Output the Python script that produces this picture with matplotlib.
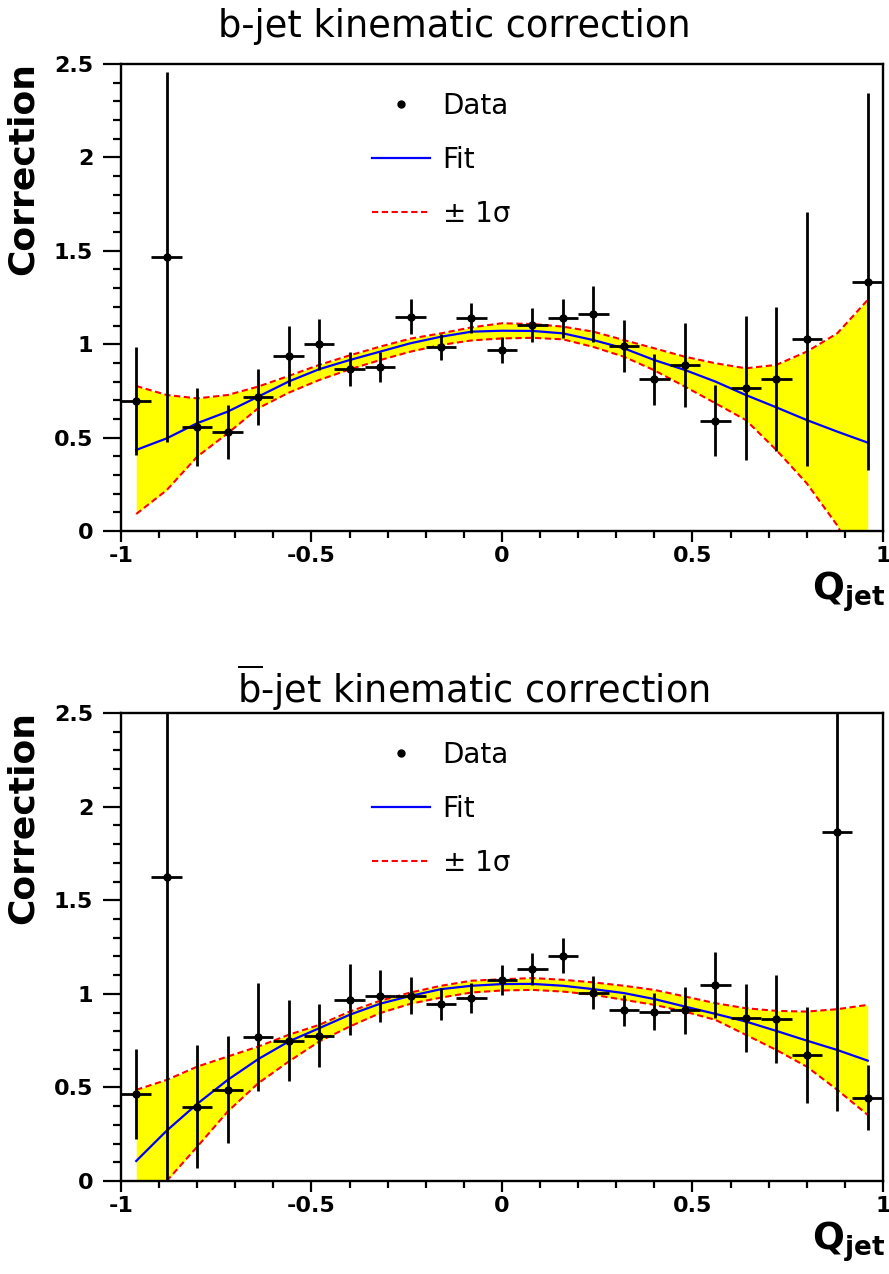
import numpy as np
import matplotlib.pyplot as plt
from matplotlib.lines import Line2D
from matplotlib.ticker import MultipleLocator

plt.rcParams['font.family'] = ['DejaVu Sans']
plt.rcParams['mathtext.fontset'] = 'dejavusans'

# bin centres of Q_jet
q_bins = [-0.96, -0.88, -0.80, -0.72, -0.64, -0.56, -0.48, -0.40, -0.32, -0.24, -0.16, -0.08, 0.00,
          0.08, 0.16, 0.24, 0.32, 0.40, 0.48, 0.56, 0.64, 0.72, 0.80, 0.88, 0.96]

# b-jet (top); the 0.88 bin has no point
b_x = [-0.96, -0.88, -0.80, -0.72, -0.64, -0.56, -0.48, -0.40, -0.32, -0.24, -0.16, -0.08, 0.00,
       0.08, 0.16, 0.24, 0.32, 0.40, 0.48, 0.56, 0.64, 0.72, 0.80, 0.96]
b_y = [0.696, 1.468, 0.558, 0.532, 0.719, 0.937, 0.999, 0.867, 0.880, 1.147, 0.983, 1.138, 0.969,
       1.103, 1.138, 1.162, 0.992, 0.812, 0.889, 0.591, 0.764, 0.812, 1.026, 1.335]
b_err = [0.29, 0.99, 0.21, 0.145, 0.15, 0.16, 0.135, 0.09, 0.08, 0.093, 0.07, 0.08, 0.07,
         0.09, 0.105, 0.15, 0.14, 0.135, 0.227, 0.19, 0.385, 0.385, 0.68, 1.01]
b_fit = [0.434, 0.496, 0.577, 0.639, 0.719, 0.800, 0.866, 0.915, 0.960, 1.005, 1.040, 1.067, 1.072,
         1.071, 1.058, 1.022, 0.978, 0.915, 0.862, 0.800, 0.728, 0.662, 0.594, 0.532, 0.473]
b_up = [0.776, 0.728, 0.710, 0.728, 0.773, 0.830, 0.889, 0.940, 0.987, 1.030, 1.058, 1.090, 1.112,
        1.108, 1.094, 1.067, 1.022, 0.978, 0.933, 0.898, 0.871, 0.889, 0.960, 1.058, 1.237]
b_lo = [0.091, 0.219, 0.398, 0.523, 0.657, 0.740, 0.808, 0.865, 0.915, 0.960, 0.996, 1.020, 1.031,
        1.034, 1.026, 0.985, 0.933, 0.860, 0.773, 0.684, 0.594, 0.434, 0.255, 0.030, -0.290]

# b-bar-jet (bottom)
bb_y = [0.464, 1.622, 0.397, 0.487, 0.769, 0.749, 0.777, 0.968, 0.989, 0.991, 0.947, 0.980, 1.075,
        1.132, 1.203, 1.007, 0.911, 0.905, 0.911, 1.048, 0.870, 0.866, 0.674, 1.865, 0.445]
bb_err = [0.24, 1.65, 0.33, 0.285, 0.29, 0.217, 0.17, 0.19, 0.137, 0.10, 0.085, 0.08, 0.08,
          0.085, 0.093, 0.088, 0.083, 0.10, 0.125, 0.178, 0.183, 0.235, 0.257, 1.49, 0.175]
bb_fit = [0.107, 0.269, 0.412, 0.540, 0.651, 0.745, 0.816, 0.888, 0.947, 0.989, 1.025, 1.043, 1.052,
          1.053, 1.043, 1.025, 1.004, 0.972, 0.932, 0.893, 0.852, 0.802, 0.750, 0.700, 0.643]
bb_up = [0.487, 0.540, 0.611, 0.665, 0.718, 0.781, 0.834, 0.905, 0.963, 1.007, 1.043, 1.070, 1.078,
         1.084, 1.075, 1.061, 1.043, 1.021, 0.986, 0.950, 0.923, 0.909, 0.905, 0.918, 0.941]
bb_lo = [-0.270, 0.000, 0.183, 0.371, 0.522, 0.638, 0.745, 0.825, 0.897, 0.947, 0.980, 1.007, 1.018,
         1.021, 1.012, 0.995, 0.968, 0.941, 0.905, 0.861, 0.781, 0.700, 0.611, 0.487, 0.353]

bin_half = 0.04

fig = plt.figure(figsize=(8.89, 12.74), dpi=100)
ax1 = fig.add_axes([0.1361, 0.5832, 0.8571, 0.3666])
ax2 = fig.add_axes([0.1361, 0.0730, 0.8571, 0.3673])

fig.text(0.511, 0.9712, 'b-jet kinematic correction', ha='center', va='baseline', fontsize=26.5)
fig.text(0.532, 0.4482, r'$\overline{\mathrm{b}}$-jet kinematic correction', ha='center',
         va='baseline', fontsize=26.5)


def draw(ax, xd, yd, err, fit, up, lo):
    ax.fill_between(q_bins, lo, up, color='#ffff00', lw=0, zorder=1)
    ax.plot(q_bins, up, color='red', ls='--', dashes=(3, 1.7), lw=1.5, zorder=2)
    ax.plot(q_bins, lo, color='red', ls='--', dashes=(3, 1.7), lw=1.5, zorder=2)
    ax.plot(q_bins, fit, color='blue', lw=1.6, zorder=3)
    ax.errorbar(xd, yd, yerr=err, xerr=bin_half, fmt='o', color='black', ms=5,
                elinewidth=2, capsize=0, zorder=4)

    ax.set_xlim(-1, 1)
    ax.set_ylim(0, 2.5)
    ax.xaxis.set_minor_locator(MultipleLocator(0.1))
    ax.yaxis.set_minor_locator(MultipleLocator(0.1))
    ax.set_xticks([-1, -0.5, 0, 0.5, 1])
    ax.set_xticklabels(['-1', '-0.5', '0', '0.5', '1'])
    ax.set_yticks([0, 0.5, 1, 1.5, 2, 2.5])
    ax.set_yticklabels(['0', '0.5', '1', '1.5', '2', '2.5'])
    for lab in ax.get_xticklabels() + ax.get_yticklabels():
        lab.set_fontweight('bold')
        lab.set_fontsize(16)
    ax.tick_params(axis='y', which='major', direction='out', length=13, width=1.6, pad=7)
    ax.tick_params(axis='y', which='minor', direction='out', length=6, width=1.6)
    ax.tick_params(axis='x', which='major', direction='out', length=8, width=1.6, pad=3)
    ax.tick_params(axis='x', which='minor', direction='out', length=5, width=1.6)
    for sp in ax.spines.values():
        sp.set_linewidth(1.7)

    ax.text(-0.107, 1.004, 'Correction', transform=ax.transAxes, rotation=90,
            ha='right', va='top', fontsize=26, fontweight='bold')
    ax.text(1.003, -0.147, r'$\mathbf{Q}_{\mathbf{jet}}$', transform=ax.transAxes,
            ha='right', va='baseline', fontsize=27)

    handles = [Line2D([], [], marker='o', color='black', ls='none', ms=5),
               Line2D([], [], color='blue', lw=1.6),
               Line2D([], [], color='red', ls='--', dashes=(3, 1.7), lw=1.5)]
    ax.legend(handles, ['Data', 'Fit', u'\u00b1 1\u03c3'], loc='upper left',
              bbox_to_anchor=(0.329, 0.94), frameon=False, fontsize=20, numpoints=1,
              handlelength=2.1, handletextpad=0.45, labelspacing=0.93,
              borderpad=0, borderaxespad=0)


draw(ax1, b_x, b_y, b_err, b_fit, b_up, b_lo)
draw(ax2, q_bins, bb_y, bb_err, bb_fit, bb_up, bb_lo)

fig.savefig('out.png', dpi=100)
